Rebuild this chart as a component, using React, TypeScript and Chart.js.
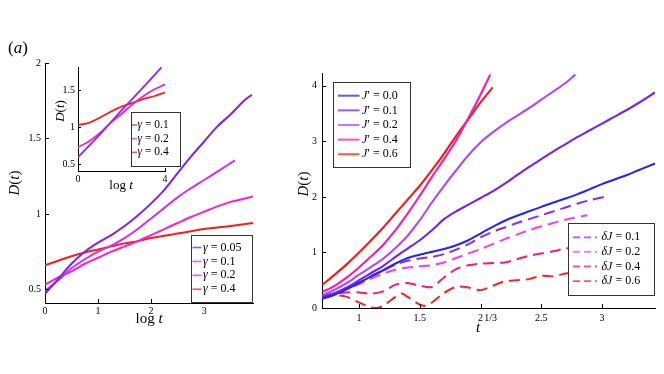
import React, { useEffect, useRef } from "react";
import { Chart, registerables } from "chart.js";
Chart.register(...registerables);

const FONT = "'Liberation Serif', 'Times New Roman', serif";

// ---------- Left panel (main): D(t) vs log t ----------
const gammaMainLabels = ["0.05", "0.1", "0.2", "0.4"];
const g005X = [0, 0.25, 0.5, 0.75, 1, 1.25, 1.5, 1.75, 2, 2.25, 2.5, 2.75, 3, 3.25, 3.5, 3.75, 3.9];
const g005Y = [0.47, 0.57, 0.67, 0.75, 0.81, 0.86, 0.92, 0.99, 1.07, 1.16, 1.27, 1.38, 1.48, 1.58, 1.66, 1.75, 1.79];
const g01X = [0, 0.25, 0.5, 0.75, 1, 1.25, 1.5, 1.75, 2, 2.25, 2.5, 2.75, 3, 3.25, 3.58];
const g01Y = [0.49, 0.56, 0.64, 0.7, 0.75, 0.79, 0.84, 0.9, 0.97, 1.04, 1.11, 1.17, 1.225, 1.28, 1.355];
const g02X = [0, 0.25, 0.5, 0.75, 1, 1.25, 1.5, 1.75, 2, 2.25, 2.5, 2.75, 3, 3.25, 3.5, 3.92];
const g02Y = [0.53, 0.58, 0.62, 0.67, 0.71, 0.75, 0.785, 0.82, 0.86, 0.9, 0.94, 0.98, 1.015, 1.05, 1.08, 1.115];
const g04X = [0, 0.25, 0.5, 0.75, 1, 1.25, 1.5, 1.75, 2, 2.25, 2.5, 2.75, 3, 3.25, 3.5, 3.92];
const g04Y = [0.66, 0.69, 0.72, 0.745, 0.765, 0.785, 0.805, 0.82, 0.84, 0.855, 0.87, 0.885, 0.9, 0.91, 0.92, 0.94];

// ---------- Inset ----------
const gammaInsetLabels = ["0.1", "0.2", "0.4"];
const i01X = [0, 1, 2, 3, 3.84];
const i01Y = [0.595, 0.9, 1.23, 1.54, 1.81];
const i02X = [0, 0.5, 1, 1.5, 2, 2.5, 3, 3.5, 4];
const i02Y = [0.73, 0.81, 0.92, 1.06, 1.18, 1.31, 1.42, 1.51, 1.58];
const i04X = [0, 0.5, 1, 1.5, 2, 2.5, 3, 3.5, 4];
const i04Y = [1.03, 1.06, 1.13, 1.21, 1.28, 1.33, 1.38, 1.42, 1.47];

// ---------- Right panel: D(t) vs t^{1/3} ----------
const jpLabels = ["0.0", "0.1", "0.2", "0.4", "0.6"];
const j00X = [0.7, 0.8, 0.9, 1.0, 1.1, 1.2, 1.3, 1.4, 1.5, 1.6, 1.7, 1.8, 1.9, 2.0, 2.1, 2.2, 2.3, 2.4, 2.5, 2.6, 2.7, 2.8, 2.9, 3.0, 3.1, 3.2, 3.3, 3.436];
const j00Y = [0.17, 0.24, 0.34, 0.45, 0.57, 0.68, 0.8, 0.9, 0.96, 1.01, 1.06, 1.13, 1.22, 1.34, 1.46, 1.57, 1.66, 1.74, 1.82, 1.9, 1.97, 2.05, 2.14, 2.23, 2.31, 2.39, 2.48, 2.6];
const j01X = [0.7, 0.8, 0.9, 1.0, 1.1, 1.2, 1.3, 1.4, 1.5, 1.6, 1.7, 1.8, 1.9, 2.0, 2.1, 2.2, 2.3, 2.4, 2.5, 2.6, 2.7, 2.8, 2.9, 3.0, 3.1, 3.2, 3.3, 3.436];
const j01Y = [0.2, 0.27, 0.37, 0.5, 0.63, 0.76, 0.92, 1.07, 1.22, 1.4, 1.6, 1.74, 1.86, 1.98, 2.1, 2.24, 2.39, 2.54, 2.68, 2.82, 2.95, 3.08, 3.2, 3.32, 3.44, 3.56, 3.69, 3.88];
const j02X = [0.7, 0.8, 0.9, 1.0, 1.1, 1.2, 1.3, 1.4, 1.5, 1.6, 1.7, 1.8, 1.9, 2.0, 2.1, 2.2, 2.3, 2.4, 2.5, 2.6, 2.7, 2.78];
const j02Y = [0.23, 0.33, 0.45, 0.6, 0.74, 0.89, 1.08, 1.3, 1.58, 1.9, 2.2, 2.48, 2.75, 2.98, 3.16, 3.32, 3.46, 3.6, 3.75, 3.9, 4.05, 4.2];
const j04X = [0.7, 0.8, 0.9, 1.0, 1.1, 1.2, 1.3, 1.4, 1.5, 1.6, 1.7, 1.8, 1.9, 2.0, 2.08];
const j04Y = [0.29, 0.4, 0.55, 0.73, 0.93, 1.14, 1.4, 1.7, 2.02, 2.36, 2.68, 3.02, 3.42, 3.84, 4.2];
const j06X = [0.7, 0.8, 0.9, 1.0, 1.1, 1.2, 1.3, 1.4, 1.5, 1.6, 1.7, 1.8, 1.9, 2.0, 2.1];
const j06Y = [0.42, 0.6, 0.79, 1.0, 1.22, 1.45, 1.7, 1.95, 2.2, 2.48, 2.78, 3.1, 3.4, 3.7, 3.97];

const djLabels = ["0.1", "0.2", "0.4", "0.6"];
const d01X = [0.7, 0.8, 0.9, 1.0, 1.1, 1.2, 1.3, 1.4, 1.5, 1.6, 1.7, 1.8, 1.9, 2.0, 2.1, 2.2, 2.3, 2.4, 2.5, 2.6, 2.7, 2.8, 2.9, 3.02];
const d01Y = [0.18, 0.25, 0.35, 0.46, 0.57, 0.68, 0.78, 0.85, 0.89, 0.92, 0.97, 1.05, 1.15, 1.27, 1.37, 1.45, 1.53, 1.6, 1.67, 1.74, 1.81, 1.88, 1.94, 2.0];
const d02X = [0.7, 0.8, 0.9, 1.0, 1.1, 1.2, 1.3, 1.4, 1.5, 1.6, 1.7, 1.8, 1.9, 2.0, 2.1, 2.2, 2.3, 2.4, 2.5, 2.6, 2.7, 2.88];
const d02Y = [0.18, 0.25, 0.34, 0.43, 0.53, 0.62, 0.69, 0.73, 0.75, 0.77, 0.82, 0.9, 0.98, 1.06, 1.15, 1.24, 1.32, 1.4, 1.47, 1.53, 1.59, 1.67];
const d04X = [0.7, 0.8, 0.9, 1.0, 1.1, 1.2, 1.3, 1.4, 1.5, 1.6, 1.7, 1.8, 1.9, 2.0, 2.1, 2.2, 2.3, 2.4, 2.5, 2.6, 2.7, 2.9];
const d04Y = [0.22, 0.26, 0.28, 0.28, 0.26, 0.3, 0.42, 0.45, 0.4, 0.38, 0.55, 0.7, 0.77, 0.8, 0.81, 0.82, 0.88, 0.94, 0.98, 1.02, 1.07, 1.12];
const d06X = [0.7, 0.8, 0.9, 1.0, 1.1, 1.15, 1.2, 1.3, 1.35, 1.4, 1.5, 1.55, 1.6, 1.7, 1.8, 1.9, 2.0, 2.1, 2.2, 2.3, 2.4, 2.5, 2.6, 2.7, 2.9];
const d06Y = [0.2, 0.23, 0.2, 0.1, 0.01, 0.0, 0.04, 0.2, 0.26, 0.2, 0.06, 0.04, 0.1, 0.27, 0.38, 0.37, 0.32, 0.4, 0.48, 0.5, 0.52, 0.58, 0.57, 0.62, 0.66];

// ---------- styles ----------
const gammaMainColors = ["#7d1fff", "#d42cf5", "#ff1fc4", "#ff1a1a"];
const gammaInsetColors = ["#9a1fff", "#ff1fae", "#ff1a1a"];
const jpColors = ["#2424ff", "#7420ff", "#b545ff", "#ff18ac", "#ff1515"];
const djColors = ["#8a2bf0", "#f03cff", "#ff1478", "#ff2020"];

type Seg = { t: string; it?: boolean; s: number; dy?: number; dx?: number };

function fontOf(g: Seg) {
  return `${g.it ? "italic " : ""}${g.s}px ${FONT}`;
}
function drawRich(ctx: CanvasRenderingContext2D, segs: Seg[], x: number, y: number, align: "left" | "center" = "left", rot = 0) {
  ctx.save();
  ctx.translate(x, y);
  if (rot) ctx.rotate(rot);
  let w = 0;
  for (const g of segs) {
    ctx.font = fontOf(g);
    w += ctx.measureText(g.t).width + (g.dx || 0);
  }
  let cx = align === "center" ? -w / 2 : 0;
  ctx.textBaseline = "middle";
  ctx.textAlign = "left";
  ctx.fillStyle = "#000";
  for (const g of segs) {
    ctx.font = fontOf(g);
    cx += g.dx || 0;
    ctx.fillText(g.t, cx, g.dy || 0);
    cx += ctx.measureText(g.t).width;
  }
  ctx.restore();
}

type LegendItem = { segs: Seg[]; color: string; dash?: number[] };
type LegendSpec = {
  box: [number, number, number, number];
  y0: number;
  step: number;
  lx1: number;
  lx2: number;
  tx: number;
  lw: number;
  items: LegendItem[];
};
function drawLegend(ctx: CanvasRenderingContext2D, L: LegendSpec) {
  ctx.save();
  const [bx, by, bw, bh] = L.box;
  ctx.fillStyle = "#fff";
  ctx.fillRect(bx, by, bw, bh);
  ctx.strokeStyle = "#333";
  ctx.lineWidth = 1;
  ctx.strokeRect(bx + 0.5, by + 0.5, bw, bh);
  L.items.forEach((it, i) => {
    const y = L.y0 + i * L.step;
    ctx.strokeStyle = it.color;
    ctx.globalAlpha = 0.75;
    ctx.lineWidth = L.lw;
    ctx.setLineDash(it.dash || []);
    ctx.beginPath();
    ctx.moveTo(L.lx1, y);
    ctx.lineTo(L.lx2, y);
    ctx.stroke();
    ctx.setLineDash([]);
    ctx.globalAlpha = 1;
    drawRich(ctx, it.segs, L.tx, y);
  });
  ctx.restore();
}

function drawInwardTicks(chart: any, len = 4) {
  const ctx = chart.ctx as CanvasRenderingContext2D;
  const { left, bottom } = chart.chartArea;
  ctx.save();
  ctx.strokeStyle = "#000";
  ctx.lineWidth = 1;
  const xs = chart.scales.x;
  const ys = chart.scales.y;
  xs.ticks.forEach((t: any) => {
    const p = Math.round(xs.getPixelForValue(t.value)) + 0.5;
    ctx.beginPath();
    ctx.moveTo(p, bottom);
    ctx.lineTo(p, bottom - len);
    ctx.stroke();
  });
  ys.ticks.forEach((t: any) => {
    const p = Math.round(ys.getPixelForValue(t.value)) + 0.5;
    ctx.beginPath();
    ctx.moveTo(left, p);
    ctx.lineTo(left + len, p);
    ctx.stroke();
  });
  ctx.restore();
}

const pts = (xs: number[], ys: number[]) => xs.map((x, i) => ({ x, y: ys[i] }));

function lineDs(label: string, xs: number[], ys: number[], color: string, width: number, dash?: number[]) {
  return {
    label,
    data: pts(xs, ys),
    borderColor: color,
    backgroundColor: color,
    borderWidth: width,
    borderDash: dash || [],
    pointRadius: 0,
    tension: 0.3,
    fill: false,
  };
}

const fmtTick = (v: any) => String(Math.round(Number(v) * 100) / 100);

function axis(min: number, max: number, step: number, pad: number, fit: (s: any) => void) {
  return {
    type: "linear" as const,
    min,
    max,
    ticks: {
      stepSize: step,
      includeBounds: false,
      autoSkip: false,
      maxRotation: 0,
      padding: pad,
      color: "#000",
      font: { family: FONT, size: 10 },
      callback: fmtTick,
    },
    grid: { display: true, drawOnChartArea: false, drawTicks: false },
    border: { display: true, color: "#000", width: 1 },
    afterFit: fit,
  };
}

function baseOptions(padding: any, x: any, y: any) {
  return {
    responsive: false,
    animation: false as const,
    devicePixelRatio: 1,
    events: [] as any[],
    layout: { padding },
    plugins: { legend: { display: false }, tooltip: { enabled: false } },
    scales: { x, y },
  };
}

const gammaSegs = (v: string, s: number): Seg[] => [
  { t: "γ", it: true, s },
  { t: " = " + v, s },
];

export default function App() {
  const leftRef = useRef<HTMLCanvasElement>(null);
  const insetRef = useRef<HTMLCanvasElement>(null);
  const rightRef = useRef<HTMLCanvasElement>(null);

  useEffect(() => {
    const charts: Chart[] = [];

    // ---------- left main ----------
    const leftSeries = [
      [g005X, g005Y],
      [g01X, g01Y],
      [g02X, g02Y],
      [g04X, g04Y],
    ];
    const leftDecor = {
      id: "leftDecor",
      afterDraw(chart: any) {
        const ctx = chart.ctx as CanvasRenderingContext2D;
        drawInwardTicks(chart);
        drawLegend(ctx, {
          box: [191, 235, 61, 67],
          y0: 247.5,
          step: 13.9,
          lx1: 192.5,
          lx2: 201.5,
          tx: 203,
          lw: 1.6,
          items: gammaMainLabels.map((v, i) => ({ segs: gammaSegs(v, 12), color: gammaMainColors[i] })),
        });
        drawRich(ctx, [{ t: "(", s: 17 }, { t: "a", it: true, s: 17 }, { t: ")", s: 17 }], 18, 49, "center");
        drawRich(ctx, [{ t: "D", it: true, s: 15 }, { t: "(", s: 15 }, { t: "t", it: true, s: 15 }, { t: ")", s: 15 }], 15, 183, "center", -Math.PI / 2);
        drawRich(ctx, [{ t: "log ", s: 15 }, { t: "t", it: true, s: 15 }], 149, 319, "center");
      },
    };
    charts.push(
      new Chart(leftRef.current!, {
        type: "line",
        data: {
          datasets: leftSeries.map((s, i) => lineDs("γ = " + gammaMainLabels[i], s[0], s[1], gammaMainColors[i], 2)),
        },
        options: baseOptions(
          { left: 0, top: 63, right: 411, bottom: 0 },
          axis(0, 3.92, 1, 2, (s: any) => { s.height = 71; }),
          axis(0.41, 2, 0.5, 4, (s: any) => { s.width = 45; })
        ) as any,
        plugins: [leftDecor],
      })
    );

    // ---------- inset ----------
    const insetSeries = [
      [i01X, i01Y],
      [i02X, i02Y],
      [i04X, i04Y],
    ];
    const insetDecor = {
      id: "insetDecor",
      afterDraw(chart: any) {
        const ctx = chart.ctx as CanvasRenderingContext2D;
        drawInwardTicks(chart, 3);
        drawLegend(ctx, {
          box: [131, 112, 49, 54],
          y0: 125,
          step: 13.7,
          lx1: 132,
          lx2: 137,
          tx: 137.5,
          lw: 1.6,
          items: gammaInsetLabels.map((v, i) => ({ segs: gammaSegs(v, 11.5), color: gammaInsetColors[i] })),
        });
        drawRich(ctx, [{ t: "D", it: true, s: 13 }, { t: "(", s: 13 }, { t: "t", it: true, s: 13 }, { t: ")", s: 13 }], 61, 111, "center", -Math.PI / 2);
        drawRich(ctx, [{ t: "log ", s: 13 }, { t: "t", it: true, s: 13 }], 121, 186, "center");
      },
    };
    charts.push(
      new Chart(insetRef.current!, {
        type: "line",
        data: {
          datasets: insetSeries.map((s, i) => lineDs("γ = " + gammaInsetLabels[i], s[0], s[1], gammaInsetColors[i], 1.8)),
        },
        options: baseOptions(
          { left: 0, top: 67, right: 499, bottom: 0 },
          axis(0, 4, 4, 2, (s: any) => { s.height = 203; }),
          axis(0.41, 1.815, 0.5, 3, (s: any) => { s.width = 78; })
        ) as any,
        plugins: [insetDecor],
      })
    );

    // ---------- right ----------
    const jSeries = [
      [j00X, j00Y],
      [j01X, j01Y],
      [j02X, j02Y],
      [j04X, j04Y],
      [j06X, j06Y],
    ];
    const dSeries = [
      [d01X, d01Y],
      [d02X, d02Y],
      [d04X, d04Y],
      [d06X, d06Y],
    ];
    const rightDecor = {
      id: "rightDecor",
      afterDraw(chart: any) {
        const ctx = chart.ctx as CanvasRenderingContext2D;
        drawInwardTicks(chart);
        drawLegend(ctx, {
          box: [333, 82, 77, 85],
          y0: 95.7,
          step: 14.65,
          lx1: 338,
          lx2: 359.5,
          tx: 362,
          lw: 2,
          items: jpLabels.map((v, i) => ({
            segs: [{ t: "J", it: true, s: 12 }, { t: "′ = " + v, s: 12 }],
            color: jpColors[i],
          })),
        });
        drawLegend(ctx, {
          box: [568, 223, 86, 72],
          y0: 237.3,
          step: 14.6,
          lx1: 573,
          lx2: 597,
          tx: 601.5,
          lw: 1.8,
          items: djLabels.map((v, i) => ({
            segs: [{ t: "δJ", it: true, s: 12 }, { t: " = " + v, s: 12 }],
            color: djColors[i],
            dash: [7, 4],
          })),
        });
        drawRich(ctx, [{ t: "D", it: true, s: 15 }, { t: "(", s: 15 }, { t: "t", it: true, s: 15 }, { t: ")", s: 15 }], 304, 184, "center", -Math.PI / 2);
        drawRich(ctx, [{ t: "t", it: true, s: 15 }, { t: "1/3", s: 10, dy: -10, dx: 4 }], 476, 328, "left");
      },
    };
    charts.push(
      new Chart(rightRef.current!, {
        type: "line",
        data: {
          datasets: [
            ...jSeries.map((s, i) => lineDs("J′ = " + jpLabels[i], s[0], s[1], jpColors[i], 2.1)),
            ...dSeries.map((s, i) => lineDs("δJ = " + djLabels[i], s[0], s[1], djColors[i], 2, [11, 6])),
          ],
        },
        options: baseOptions(
          { left: 0, top: 73, right: 9, bottom: 0 },
          axis(0.695, 3.436, 0.5, 4, (s: any) => { s.height = 66; }),
          axis(0, 4.23, 1, 5, (s: any) => { s.width = 322; })
        ) as any,
        plugins: [rightDecor],
      })
    );

    return () => charts.forEach((c) => c.destroy());
  }, []);

  const cs: React.CSSProperties = { position: "absolute", left: 0, top: 0 };
  return (
    <div style={{ position: "fixed", left: 0, top: 0, width: 664, height: 374, background: "#fff", overflow: "hidden" }}>
      <canvas ref={leftRef} width={664} height={374} style={cs} />
      <canvas ref={rightRef} width={664} height={374} style={cs} />
      <canvas ref={insetRef} width={664} height={374} style={cs} />
    </div>
  );
}
